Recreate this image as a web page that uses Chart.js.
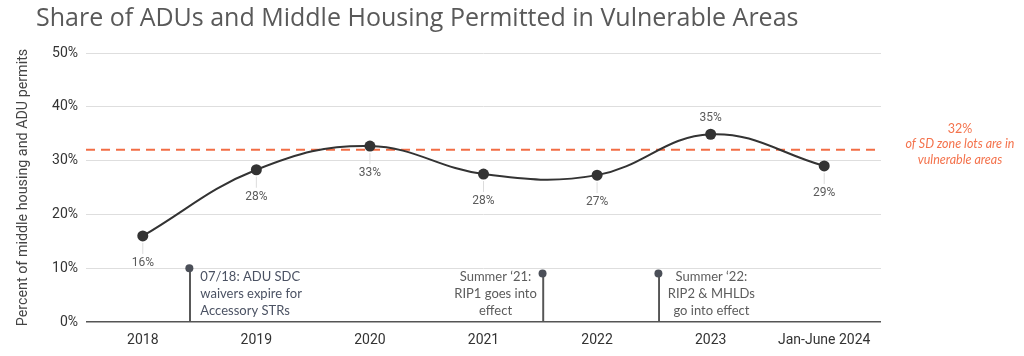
<!DOCTYPE html>
<html><head><meta charset="utf-8">
<script src="https://cdn.jsdelivr.net/npm/chart.js@4"></script>
<style>html,body{margin:0;padding:0;background:#fff}#wrap{width:1024px;height:356px;position:relative}</style>
</head><body><div id="wrap"><canvas id="c" width="1024" height="356"></canvas></div>
<script>
const chartTitle = 'Share of ADUs and Middle Housing Permitted in Vulnerable Areas';
const yAxisTitle = 'Percent of middle housing and ADU permits';
const categories = ['2018', '2019', '2020', '2021', '2022', '2023', 'Jan-June 2024'];
const shareValues = [16.0, 28.3, 32.7, 27.5, 27.3, 34.9, 29.0];
const yTickValues = [0, 10, 20, 30, 40, 50];
const benchmarkValue = 32;
const benchmarkText = ['32%', 'of SD zone lots are in', 'vulnerable areas'];
const milestonePositions = [0.41, 3.52, 4.54]; // in category-index units (time)
const milestoneValues = [10, 9, 9];
const milestoneTexts = [
  ['07/18: ADU SDC', 'waivers expire for', 'Accessory STRs'],
  ['Summer \u201821:', 'RIP1 goes into', 'effect'],
  ['Summer \u201822:', 'RIP2 & MHLDs', 'go into effect']
];

const annotPlugin = {
  id: 'annot',
  afterDatasetsDraw(chart) {
    const ctx = chart.ctx;
    const x2 = chart.scales.x2, ys = chart.scales.y;
    const area = chart.chartArea;
    ctx.save();
    // data labels
    const meta = chart.getDatasetMeta(0);
    ctx.font = '12px Roboto';
    ctx.textAlign = 'center';
    ctx.textBaseline = 'middle';
    meta.data.forEach((pt, i) => {
      const above = i === 5;
      const ly = above ? pt.y - 16 : pt.y + 27;
      if (!above) {
        ctx.strokeStyle = '#dcdcdc';
        ctx.lineWidth = 1;
        ctx.beginPath();
        ctx.moveTo(pt.x, pt.y + 7);
        ctx.lineTo(pt.x, ly - 9);
        ctx.stroke();
      }
      ctx.fillStyle = '#5a5a5a';
      ctx.fillText(Math.round(shareValues[i]) + '%', pt.x, ly);
    });
    // milestone texts
    const styles = [
      {align: 'left', dx: 11, color: '#4b5263'},
      {align: 'center', dx: -47, color: '#5c5c5c'},
      {align: 'center', dx: 53, color: '#5c5c5c'}
    ];
    ctx.font = '13px Lato';
    const base = ys.getPixelForValue(0);
    milestoneTexts.forEach((lines, i) => {
      const st = styles[i];
      const px = x2.getPixelForValue(milestonePositions[i]) + st.dx;
      ctx.textAlign = st.align;
      ctx.fillStyle = st.color;
      lines.forEach((t, k) => ctx.fillText(t, px, base - 45 + k * 17));
    });
    // benchmark text
    const by = ys.getPixelForValue(benchmarkValue);
    const bx = area.right + 79;
    ctx.fillStyle = '#f4734d';
    ctx.textAlign = 'center';
    benchmarkText.forEach((t, k) => {
      ctx.font = (k === 0 ? '' : 'italic ') + '12.5px Lato';
      ctx.fillText(t, bx, by - 21 + k * 15.5);
    });
    // title
    ctx.font = '25px "Open Sans"';
    ctx.fillStyle = '#595959';
    ctx.textAlign = 'left';
    ctx.fillText(chartTitle, 36, 19);
    ctx.restore();
  }
};

new Chart(document.getElementById('c'), {
  type: 'line',
  data: {
    labels: categories,
    datasets: [
      {
        data: shareValues,
        xAxisID: 'x', yAxisID: 'y',
        borderColor: '#333333', borderWidth: 2, tension: 0.4,
        pointRadius: 5.5, pointBackgroundColor: '#333333', pointBorderWidth: 0,
        order: 0
      },
      {
        type: 'line',
        data: [{x: -0.5, y: benchmarkValue}, {x: 6.5, y: benchmarkValue}],
        xAxisID: 'x2', yAxisID: 'y',
        borderColor: '#f26d45', borderWidth: 2, borderDash: [9, 6],
        pointRadius: 0, order: 3
      },
      {
        type: 'bar',
        data: milestonePositions.map((p, i) => ({x: p, y: milestoneValues[i]})),
        xAxisID: 'x2', yAxisID: 'y',
        backgroundColor: '#555555', barThickness: 1.3,
        order: 2
      },
      {
        type: 'line',
        data: milestonePositions.map((p, i) => ({x: p, y: milestoneValues[i]})),
        xAxisID: 'x2', yAxisID: 'y',
        showLine: false, pointRadius: 4, pointBackgroundColor: '#4b4f58', pointBorderWidth: 0,
        order: 1
      }
    ]
  },
  options: {
    responsive: false,
    animation: false,
    devicePixelRatio: 1,
    layout: {padding: {top: 53, right: 143, bottom: 0, left: 0}},
    plugins: {legend: {display: false}, tooltip: {enabled: false}},
    scales: {
      x: {
        type: 'category', offset: true,
        grid: {display: false, drawTicks: false},
        border: {display: false},
        ticks: {font: {family: 'Roboto', size: 14}, color: '#333', padding: 10, maxRotation: 0, autoSkip: false},
        afterFit: s => { s.height = 34; }
      },
      x2: {type: 'linear', min: -0.5, max: 6.5, display: false, offset: false},
      y: {
        min: 0, max: 50,
        afterBuildTicks: s => { s.ticks = yTickValues.map(v => ({value: v})); },
        ticks: {font: {family: 'Roboto', size: 14}, color: '#333', padding: 8, callback: v => v + '%'},
        grid: {
          drawTicks: false,
          color: c => c.tick && c.tick.value === 0 ? '#555' : '#dedede',
          lineWidth: c => c.tick && c.tick.value === 0 ? 1.5 : 1
        },
        border: {display: false},
        title: {display: true, text: yAxisTitle, font: {family: 'Roboto', size: 14.3}, color: '#444', padding: {top: 15, bottom: 0}},
        afterFit: s => { s.width = 86; }
      }
    }
  },
  plugins: [annotPlugin]
});
</script>
</body></html>
